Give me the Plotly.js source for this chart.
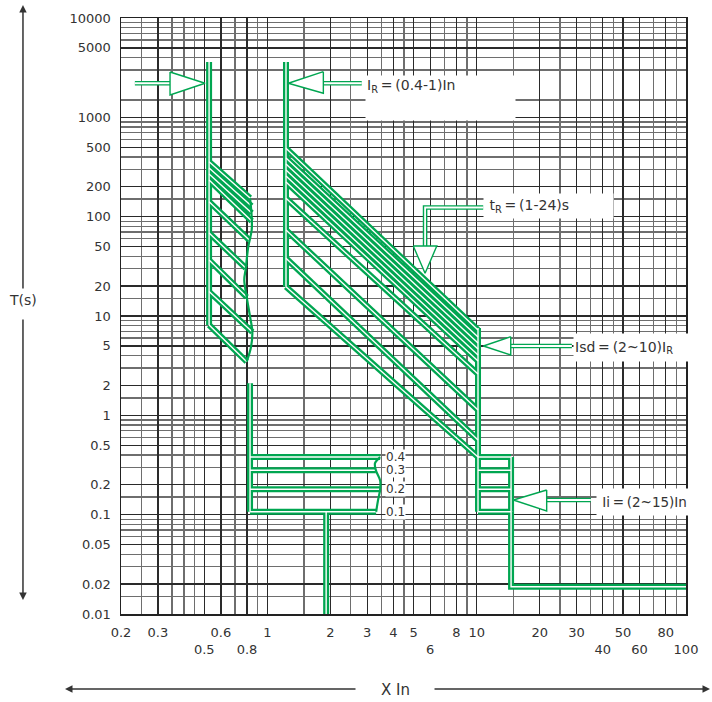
<!DOCTYPE html>
<html><head><meta charset="utf-8">
<script src="https://cdn.plot.ly/plotly-3.0.1.min.js"></script>
<style>html,body{margin:0;padding:0;background:#fff}#chart{width:712px;height:702px}</style>
</head><body><div id="chart"></div>
<script>
// ---- axis ticks ----
const xTickVals = [0.2,0.3,0.5,0.6,0.8,1,2,3,4,5,6,8,10,20,30,40,50,60,80,100];
const xTickText = ['0.2','0.3','<br>0.5','0.6','<br>0.8','1','2','3','4','5','<br>6','8','10','20','30','<br>40','50','<br>60','80','<br>100'];
const xMinorVals = [0.25,0.35,0.4,0.45,0.7,0.9,1.5,2.5,3.5,4.5,7,9,15,25,35,45,70,90];
const yTickVals = [10000,5000,1000,500,200,100,50,20,10,5,2,1,0.5,0.2,0.1,0.05,0.02,0.01];
const yTickText = ['10000','5000','1000','500','200','100','50','20','10','5','2','1','0.5','0.2','0.1','0.05','0.02','0.01'];
const yMinorVals = [];
[0.01,0.1,1,10,100,1000].forEach(d => [1.5,3,4,6,7,8,9].forEach(m => yMinorVals.push(+(d*m).toPrecision(3))));

// ---- long-time delay, Ir minimum (left band) ----
const irMinX = 0.527;
const leftBarY = [3600, 8.1];
const leftSlopeStartY = [358, 309, 269, 234, 141.5, 68.5, 36.6, 17.6, 8.12];
const leftSlopeEndX   = [0.827, 0.84, 0.842, 0.842, 0.82, 0.789, 0.797, 0.848, 0.797];
const leftSlopeEndY   = [154, 128, 109, 90.5, 58.2, 30.4, 15.5, 6.9, 3.47];
const leftEdgeX = [0.827,0.842,0.842,0.811,0.789,0.776,0.797,0.827,0.848,0.836,0.797];
const leftEdgeY = [153,100,73.4,49.9,30.2,23,15.6,9.84,6.95,4.91,3.47];

// ---- long-time delay, Ir = 1 (right band) ----
const irMaxX = 1.228;
const rightBarY = [3600, 19.7];
const rightSlopeStartY = [488,390,339,295,257,223,153,73.4,38.1,19.7];
const isdX = 10.15;
const rightSlopeEndY = [7.23,6.15,5.35,4.65,4.05,3.52,2.61,1.13,0.565,0.381];
const isdBarY = [7.57, 0.107];

// ---- short-time delay ----
const sdX = 0.827;
const sdBarY = [2.1, 0.107];
const sdLevels = [0.38, 0.28, 0.18, 0.107];
const sdLabels = ['0.4','0.3','0.2','0.1'];
const sdLevelEndX = [3.46, 3.3, 3.46, 3.31];
const sdEdgeX = [3.46,3.27,3.3,3.46,3.46,3.38,3.31];
const sdEdgeY = [0.38,0.33,0.28,0.22,0.18,0.14,0.107];
const sdTailX = 1.91;
const sdTailY = [0.107, 0.01];

// ---- instantaneous ----
const iiX = [10.15, 14.6];
const iiLevels = [0.38, 0.28, 0.18, 0.107];
const iiTailX = [14.6, 14.6, 100];
const iiTailY = [0.107, 0.0188, 0.0188];

// ---- pointer arrows (shaft + head) ----
const arrowIrMinShaftX = [0.233, 0.343], arrowIrMinShaftY = [2203, 2203];
const arrowIrMinHeadX = [0.343, 0.504, 0.343, 0.343], arrowIrMinHeadY = [2862, 2203, 1679, 2862];
const arrowIrShaftX = [1.852, 2.825], arrowIrShaftY = [2203, 2203];
const arrowIrHeadX = [1.852, 1.26, 1.852, 1.852], arrowIrHeadY = [2882, 2203, 1746, 2882];
const arrowTrShaftX = [10.77, 5.67, 5.67], arrowTrShaftY = [123.7, 123.7, 50.7];
const arrowTrHeadX = [4.98, 5.67, 6.45, 4.98], arrowTrHeadY = [50.7, 26.9, 50.7, 50.7];
const arrowIsdShaftX = [28.5, 14.55], arrowIsdShaftY = [4.99, 4.99];
const arrowIsdHeadX = [14.55, 10.77, 14.55, 14.55], arrowIsdHeadY = [6.19, 4.99, 4.05, 6.19];
const arrowIiShaftX = [35.1, 21.6], arrowIiShaftY = [0.1405, 0.1405];
const arrowIiHeadX = [21.6, 14.98, 21.6, 21.6], arrowIiHeadY = [0.177, 0.1405, 0.1089, 0.177];

// ---- build combined paths ----
const GREEN = '#00a651';
const tubeX = [], tubeY = [];
function addTube(xs, ys){ tubeX.push(...xs, null); tubeY.push(...ys, null); }
addTube([irMinX, irMinX], leftBarY);
leftSlopeStartY.forEach((y,i) => addTube([irMinX, leftSlopeEndX[i]], [y, leftSlopeEndY[i]]));
addTube([irMaxX, irMaxX], rightBarY);
rightSlopeStartY.forEach((y,i) => addTube([irMaxX, isdX], [y, rightSlopeEndY[i]]));
addTube([isdX, isdX], isdBarY);
addTube([sdX, sdX], sdBarY);
sdLevels.forEach((l,i) => addTube([sdX, sdLevelEndX[i]], [l, l]));
addTube([sdTailX, sdTailX], sdTailY);
iiLevels.forEach(l => addTube(iiX, [l, l]));
addTube([iiX[1], iiX[1]], [iiLevels[0], iiLevels[iiLevels.length-1]]);
addTube(iiTailX, iiTailY);

const shaftX = [], shaftY = [];
[[arrowIrMinShaftX,arrowIrMinShaftY],[arrowIrShaftX,arrowIrShaftY],[arrowTrShaftX,arrowTrShaftY],
 [arrowIsdShaftX,arrowIsdShaftY],[arrowIiShaftX,arrowIiShaftY]].forEach(([xs,ys]) => { shaftX.push(...xs,null); shaftY.push(...ys,null); });

const traces = [];
traces.push({x:tubeX, y:tubeY, mode:'lines', line:{color:GREEN, width:6}, connectgaps:false, hoverinfo:'skip'});
traces.push({x:shaftX, y:shaftY, mode:'lines', line:{color:GREEN, width:4.6}, connectgaps:false, hoverinfo:'skip'});
traces.push({x:tubeX, y:tubeY, mode:'lines', line:{color:'#ffffff', width:1.4}, connectgaps:false, hoverinfo:'skip'});
traces.push({x:shaftX, y:shaftY, mode:'lines', line:{color:'#ffffff', width:1.8}, connectgaps:false, hoverinfo:'skip'});
traces.push({x:leftEdgeX, y:leftEdgeY, mode:'lines', line:{color:GREEN, width:2.2, shape:'spline'}, hoverinfo:'skip'});
traces.push({x:sdEdgeX, y:sdEdgeY, mode:'lines', line:{color:GREEN, width:2.2, shape:'spline'}, hoverinfo:'skip'});
[[arrowIrMinHeadX,arrowIrMinHeadY],[arrowIrHeadX,arrowIrHeadY],[arrowTrHeadX,arrowTrHeadY],
 [arrowIsdHeadX,arrowIsdHeadY],[arrowIiHeadX,arrowIiHeadY]].forEach(([xs,ys]) => {
  traces.push({x:xs, y:ys, mode:'lines', fill:'toself', fillcolor:'#ffffff', line:{color:GREEN, width:1.4}, hoverinfo:'skip'});
});

const L = Math.log10;
const TS = '\u2009';
const boxFont = {family:'DejaVu Sans', size:14, color:'#333'};
const annotations = [
  {x:L(2.93), y:L(2670), xref:'x', yref:'y', xanchor:'left', yanchor:'top', width:147, height:42, align:'left', valign:'top',
   text:'I<sub>R</sub>'+TS+'='+TS+'(0.4-1)In', showarrow:false, bgcolor:'#ffffff', font:boxFont, borderpad:1},
  {x:L(10.77), y:L(173), xref:'x', yref:'y', xanchor:'left', yanchor:'top', width:127, height:22, align:'left', valign:'middle',
   text:'&nbsp;t<sub>R</sub>'+TS+'='+TS+'(1-24)s', showarrow:false, bgcolor:'#ffffff', font:boxFont, borderpad:1},
  {x:L(28.8), y:L(6.70), xref:'x', yref:'y', xanchor:'left', yanchor:'top', width:113, height:25, align:'left', valign:'middle',
   text:'Isd'+TS+'='+TS+'(2~10)I<sub>R</sub>', showarrow:false, bgcolor:'#ffffff', font:boxFont, borderpad:1},
  {x:L(37.2), y:L(0.1856), xref:'x', yref:'y', xanchor:'left', yanchor:'top', width:90, height:24, align:'left', valign:'middle',
   text:'&nbsp;Ii'+TS+'='+TS+'(2~15)In', showarrow:false, bgcolor:'#ffffff', font:{family:'DejaVu Sans', size:13.5, color:'#333'}, borderpad:1},
];
sdLabels.forEach((t,i) => annotations.push({x:L(3.65), y:L(sdLevels[i]), xref:'x', yref:'y', xanchor:'left', yanchor:'middle',
  text:t, showarrow:false, bgcolor:'#ffffff', font:{family:'DejaVu Sans', size:12, color:'#333'}, borderpad:0}));
// axis titles with double-headed arrows
const axFont = {family:'DejaVu Sans', size:14, color:'#333'};
annotations.push({x:-0.1735, y:0.527, xref:'paper', yref:'paper', text:'T(s)', showarrow:false, font:axFont, xanchor:'center', yanchor:'middle'});
annotations.push({x:-0.1735, y:1.0218, xref:'paper', yref:'paper', text:'', showarrow:true, ax:0, ay:285, arrowhead:2, arrowsize:1, arrowwidth:1.5, arrowcolor:'#333'});
annotations.push({x:-0.1735, y:0.0235, xref:'paper', yref:'paper', text:'', showarrow:true, ax:0, ay:-282, arrowhead:2, arrowsize:1, arrowwidth:1.5, arrowcolor:'#333'});
annotations.push({x:0.4867, y:-0.1275, xref:'paper', yref:'paper', text:'X In', showarrow:false, font:{family:'DejaVu Sans', size:15, color:'#333'}, xanchor:'center', yanchor:'middle'});
annotations.push({x:-0.0991, y:-0.1258, xref:'paper', yref:'paper', text:'', showarrow:true, ax:292, ay:0, arrowhead:2, arrowsize:1, arrowwidth:1.5, arrowcolor:'#333'});
annotations.push({x:1.0425, y:-0.1258, xref:'paper', yref:'paper', text:'', showarrow:true, ax:-277, ay:0, arrowhead:2, arrowsize:1, arrowwidth:1.5, arrowcolor:'#333'});

const tickFont = {family:'DejaVu Sans', size:13, color:'#333'};
const layout = {
  width:712, height:702,
  margin:{l:121, r:26, t:18, b:88},
  paper_bgcolor:'#ffffff', plot_bgcolor:'#ffffff',
  showlegend:false, hovermode:false,
  xaxis:{type:'log', range:[L(0.2), 2], tickmode:'array', tickvals:xTickVals, ticktext:xTickText, tickangle:0,
    ticks:'', showgrid:true, gridcolor:'#2a2a2a', gridwidth:1.3, zeroline:false,
    minor:{tickmode:'array', tickvals:xMinorVals, showgrid:true, gridcolor:'#6e6e6e', gridwidth:1.4, ticks:''},
    showline:true, mirror:true, linecolor:'#222', linewidth:1.5, tickfont:tickFont, ticklabelstandoff:6, fixedrange:true},
  yaxis:{type:'log', range:[-2, 4], tickmode:'array', tickvals:yTickVals, ticktext:yTickText,
    ticks:'', showgrid:true, gridcolor:'#2a2a2a', gridwidth:1.3, zeroline:false,
    minor:{tickmode:'array', tickvals:yMinorVals, showgrid:true, gridcolor:'#6e6e6e', gridwidth:1.4, ticks:''},
    showline:true, mirror:true, linecolor:'#222', linewidth:1.5, tickfont:tickFont, ticklabelstandoff:6, fixedrange:true},
  annotations:annotations
};
Plotly.newPlot('chart', traces, layout, {displayModeBar:false, staticPlot:true});
</script>
</body></html>
